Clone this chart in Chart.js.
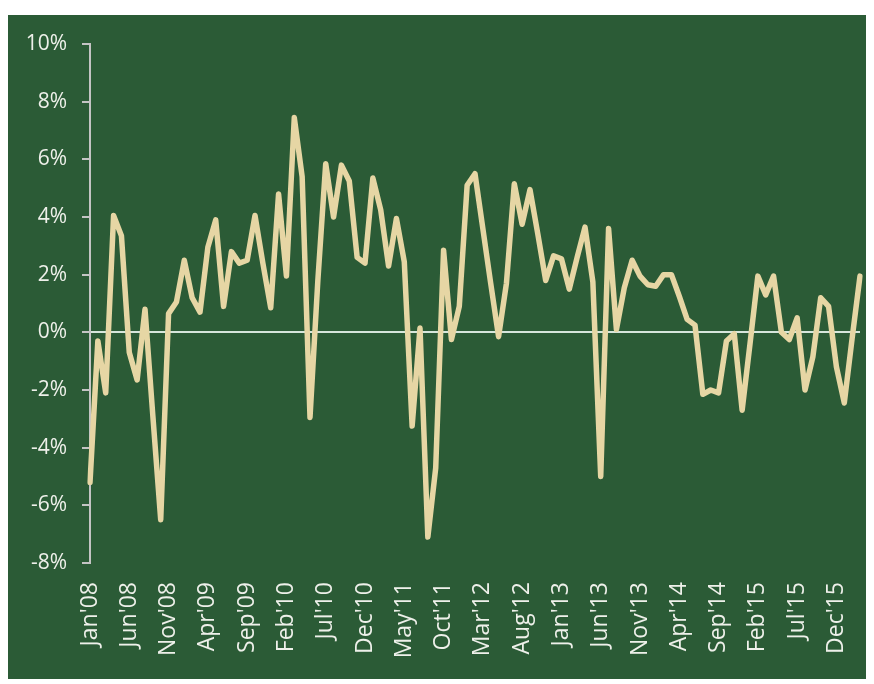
<!DOCTYPE html>
<html>
<head>
<meta charset="utf-8">
<script src="https://cdn.jsdelivr.net/npm/chart.js@4.4.1/dist/chart.umd.min.js"></script>
<style>
    html, body { margin: 0; padding: 0; background: #fff; }
    #panel { position: absolute; left: 8px; top: 15px; width: 858px; height: 664px; background: #2b5b36; }
</style>
</head>
<body>
<div id="panel"><canvas id="chart_1" width="858" height="664"></canvas></div>
<script>
// monthly labels, Jan'08 .. Mar'16
var months = ["Jan", "Feb", "Mar", "Apr", "May", "Jun", "Jul", "Aug", "Sep", "Oct", "Nov", "Dec"]
var years = ["08", "09", "10", "11", "12", "13", "14", "15", "16"]
var categories = []
years.forEach(function (yy) {
    months.forEach(function (m) {
        categories.push(m + "'" + yy)
    })
})
categories = categories.slice(0, 99)

// % change
var values = [
    -5.2, -0.3, -2.1, 4.05, 3.35, -0.7, -1.65, 0.8, -2.9, -6.5, 0.65, 1.05,   // 2008
    2.5, 1.2, 0.7, 2.95, 3.9, 0.9, 2.8, 2.4, 2.5, 4.05, 2.4, 0.85,            // 2009
    4.8, 1.95, 7.45, 5.4, -2.95, 1.8, 5.85, 4.0, 5.8, 5.25, 2.6, 2.4,         // 2010
    5.35, 4.25, 2.3, 3.95, 2.45, -3.25, 0.15, -7.1, -4.7, 2.85, -0.25, 0.9,   // 2011
    5.1, 5.5, 3.6, 1.7, -0.15, 1.7, 5.15, 3.75, 4.95, 3.4, 1.8, 2.65,         // 2012
    2.55, 1.5, 2.6, 3.65, 1.75, -5.0, 3.6, 0.1, 1.55, 2.5, 1.95, 1.65,        // 2013
    1.6, 2.0, 2.0, 1.25, 0.45, 0.25, -2.15, -2.0, -2.1, -0.3, -0.05, -2.7,    // 2014
    -0.4, 1.95, 1.3, 1.95, 0.0, -0.25, 0.5, -2.0, -0.85, 1.2, 0.9, -1.2,      // 2015
    -2.45, -0.2, 1.95                                                          // 2016
]

var yTicks = [-8, -6, -4, -2, 0, 2, 4, 6, 8, 10]

var labelColor = "#eef0ea"
var axisColor = "#c4c4c4"
var lineColor = "#e6d6a4"

var config_1 = {
    type: "line",
    data: {
        labels: categories,
        datasets: [{
            data: values,
            borderColor: lineColor,
            borderWidth: 5.5,
            borderJoinStyle: "round",
            borderCapStyle: "round",
            pointRadius: 0,
            tension: 0,
            fill: false
        }]
    },
    options: {
        responsive: false,
        animation: false,
        layout: { padding: { top: 29, right: 0, left: 0, bottom: 0 } },
        plugins: { legend: { display: false }, tooltip: { enabled: false } },
        scales: {
            x: {
                offset: false,
                grid: { display: false, drawTicks: false },
                border: { display: false },
                ticks: {
                    autoSkip: false,
                    maxRotation: 90,
                    minRotation: 90,
                    padding: 19,
                    color: labelColor,
                    font: { family: "'Open Sans'", size: 23 },
                    callback: function (val, i) {
                        return i % 5 === 0 ? categories[i] : ""
                    }
                },
                afterFit: function (scale) {
                    scale.height = 116
                    scale.paddingLeft = 0
                    scale.paddingRight = 6
                }
            },
            y: {
                min: yTicks[0],
                max: yTicks[yTicks.length - 1],
                afterBuildTicks: function (scale) {
                    scale.ticks = yTicks.map(function (v) { return { value: v } })
                },
                grid: {
                    color: function (ctx) { return ctx.tick && ctx.tick.value === 0 ? "#d6e6dc" : "rgba(0,0,0,0)" },
                    tickColor: axisColor,
                    lineWidth: 2,
                    tickLength: 8
                },
                border: { display: true, color: axisColor, width: 2 },
                ticks: {
                    padding: 15,
                    color: labelColor,
                    font: { family: "'Open Sans'", size: 21 },
                    callback: function (v) { return v + "%" }
                },
                afterFit: function (scale) { scale.width = 82 }
            }
        }
    }
}

var CHART_1 = new Chart(document.getElementById("chart_1"), config_1)
</script>
</body>
</html>
